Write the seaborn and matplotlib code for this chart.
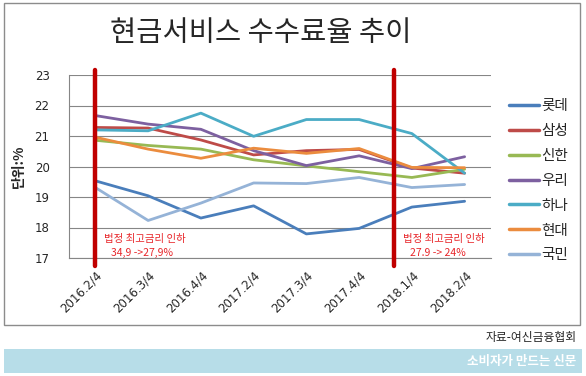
import pandas as pd
import matplotlib
matplotlib.use("Agg")
import matplotlib.pyplot as plt
import matplotlib.transforms as mtrans
import seaborn as sns
from matplotlib.patches import Rectangle

sns.set_theme(style="white")
plt.rcParams["font.family"] = ["Noto Sans CJK KR", "DejaVu Sans"]

# ── Données ──────────────────────────────────────────────────
QUARTERS = ["2016.2/4", "2016.3/4", "2016.4/4", "2017.2/4",
            "2017.3/4", "2017.4/4", "2018.1/4", "2018.2/4"]
LOTTE   = [19.53, 19.04, 18.31, 18.71, 17.79, 17.97, 18.67, 18.86]
SAMSUNG = [21.28, 21.26, 20.87, 20.38, 20.52, 20.56, 19.95, 19.78]
SHINHAN = [20.86, 20.69, 20.57, 20.22, 20.02, 19.83, 19.64, 19.91]
WOORI   = [21.67, 21.39, 21.22, 20.52, 20.03, 20.35, 19.93, 20.32]
HANA    = [21.20, 21.17, 21.75, 20.99, 21.54, 21.54, 21.08, 19.78]
HYUNDAI = [20.96, 20.57, 20.27, 20.60, 20.43, 20.59, 19.97, 19.96]
KOOKMIN = [19.31, 18.23, 18.80, 19.46, 19.44, 19.64, 19.31, 19.41]

SERIES = {"롯데": LOTTE, "삼성": SAMSUNG, "신한": SHINHAN, "우리": WOORI,
          "하나": HANA, "현대": HYUNDAI, "국민": KOOKMIN}
COLORS = ["#4A7EBB", "#BE4B48", "#98B954", "#7D60A0",
          "#4BACC6", "#EB8C3E", "#95B3D7"]

df = pd.DataFrame([
    {"분기": i, "카드사": name, "값": v}
    for name, vals in SERIES.items() for i, v in enumerate(vals)
])

# ── Figure ───────────────────────────────────────────────────
fig = plt.figure(figsize=(5.86, 3.76), dpi=100)
W, H = 586, 376

# cadre + bandeau
fig.patches.append(Rectangle((4 / W, 1 - 325 / H), 576 / W, 322 / H,
                             transform=fig.transFigure, fill=False,
                             edgecolor="#8C8C8C", linewidth=1.0))
fig.patches.append(Rectangle((4 / W, 1 - 373 / H), 578 / W, 24 / H,
                             transform=fig.transFigure, facecolor="#B7DDE8",
                             edgecolor="none"))

ax = fig.add_axes([69 / W, 1 - 258 / H, 422 / W, 183 / H])
sns.lineplot(data=df, x="분기", y="값", hue="카드사", palette=COLORS,
             linewidth=2.0, ax=ax, legend=False)

ax.set_xlim(-0.5, 7.5)
ax.set_ylim(17, 23)
ax.set_yticks(range(17, 24))
ax.set_xticks(range(len(QUARTERS)))
ax.set_xticklabels(QUARTERS, rotation=45, ha="right", rotation_mode="anchor",
                   fontsize=8.5, family="DejaVu Sans")
shift = mtrans.ScaledTranslation(-7 / 100, 0, fig.dpi_scale_trans)
for lab in ax.get_xticklabels():
    lab.set_transform(lab.get_transform() + shift)
ax.tick_params(axis="y", labelsize=8.5, pad=14, length=0)
ax.tick_params(axis="x", pad=8, length=0)
for lab in ax.get_yticklabels():
    lab.set_family("DejaVu Sans")
ax.grid(axis="y", color="#868686", linewidth=0.8)
ax.set_axisbelow(True)
for s in ["top", "right"]:
    ax.spines[s].set_visible(False)
for s in ["left", "bottom"]:
    ax.spines[s].set_color("#868686")
    ax.spines[s].set_linewidth(0.8)
ax.set_xlabel("")
ax.set_ylabel("단위:%", fontsize=10, fontweight="bold", labelpad=6)

# lignes rouges (baisse du taux plafond)
for xv in [0, 5.67]:
    ax.axvline(xv, ymin=-0.045, ymax=1.03, color="#C00000",
               linewidth=3.2, clip_on=False, zorder=5)
ax.text(0.17, 17.62, "법정 최고금리 인하", color="#E8262A", fontsize=7.5,
        va="center", zorder=6)
ax.text(0.3, 17.16, "34,9 ->27,9%", color="#E8262A", fontsize=7.5,
        va="center", zorder=6)
ax.text(5.83, 17.62, "법정 최고금리 인하", color="#E8262A", fontsize=7.5,
        va="center", zorder=6)
ax.text(5.97, 17.16, "27.9 -> 24%", color="#E8262A", fontsize=7.5,
        va="center", zorder=6)

# légende
handles = [plt.Line2D([], [], color=c, linewidth=2.5) for c in COLORS]
fig.legend(handles, list(SERIES.keys()), loc="upper left",
           bbox_to_anchor=(503 / W, 1 - 93 / H), frameon=False,
           fontsize=10.5, handlelength=2.1, handletextpad=0.15,
           labelspacing=0.75, borderaxespad=0)

fig.text(261 / W, 1 - 33 / H, "현금서비스 수수료율 추이", ha="center",
         va="center", fontsize=20.5)
fig.text(577 / W, 1 - 338 / H, "자료-여신금융협회", ha="right", va="center",
         fontsize=8.5)
fig.text(576 / W, 1 - 361 / H, "소비자가 만드는 신문", ha="right", va="center",
         fontsize=9, color="white", fontweight="bold")

fig.savefig("out.png", dpi=100)
plt.close(fig)
